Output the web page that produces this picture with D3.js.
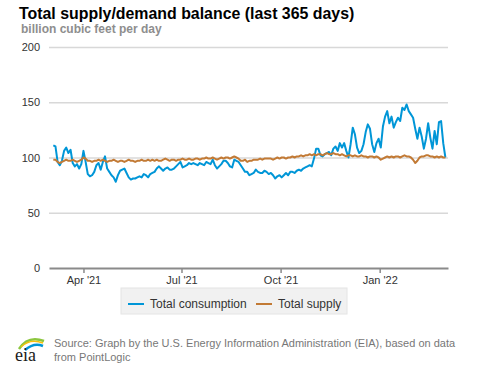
<!DOCTYPE html>
<html><head><meta charset="utf-8">
<script src="https://cdn.jsdelivr.net/npm/d3@7"></script>
<style>
body{margin:0;background:#fff;}
svg{display:block;font-family:"Liberation Sans",Arial,sans-serif;}
</style></head>
<body>
<svg id="chart" width="477" height="367"></svg>
<script>
const title = "Total supply/demand balance (last 365 days)";
const subtitle = "billion cubic feet per day";
const seriesNames = ["Total consumption", "Total supply"];
const startDate = "2021-03-04";
const stepDays = 2;
const yTicks = [0, 50, 100, 150, 200];
const xTickDates = ["2021-04-01", "2021-07-01", "2021-10-01", "2022-01-01"];
const xTickLabels = ["Apr '21", "Jul '21", "Oct '21", "Jan '22"];
const consumption = [
111,110,96,93,97,106,109,104,107,95,
92,94,90,94,106,96,85,83,84,87,
93,95,89,96,101,90,87,84,82,78,
84,88,89,90,86,82,80,81,81,82,
83,82,85,84,82,85,86,
87,90,92,90,
88,90,91,89,89,90,92,94,96,91,
92,93,95,94,95,94,93,95,94,93,
96,95,94,98,93,90,92,94,97,97,
95,92,91,98,97,96,93,90,87,87,
84,85,
86,89,87,86,86,88,87,85,86,
84,81,83,84,82,84,86,84,87,87,
86,88,89,88,90,91,92,93,92,99,
108,108,102,101,103,104,105,102,108,110,106,
113,109,113,106,100,112,
127,121,109,104,
106,112,123,130,126,112,105,113,117,109,
128,137,142,131,137,127,132,136,133,145,
143,148,142,139,136,126,117,127,119,108,
117,131,118,108,124,112,132,133,113,100
];
const supply = [
98,98,96,95,96,97,98,97,97,98,
97,96,97,98,100,99,97,97,96,97,
97,98,97,98,97,96,97,97,98,97,
96,97,97,96,97,98,97,97,96,97,
97,98,97,97,98,97,98,97,98,97,
97,98,99,98,97,98,98,97,98,98,
99,98,98,99,98,98,99,99,98,99,
99,100,99,99,100,99,98,99,100,99,
100,100,99,100,101,100,99,97,97,98,
96,97,97,98,98,98,99,98,99,99,
99,99,98,99,100,99,100,100,99,100,
100,101,100,101,101,102,101,102,102,103,
102,103,102,103,103,102,103,104,103,103,
104,103,103,102,103,102,101,102,102,101,
102,101,101,102,101,101,100,101,101,100,
101,100,98,99,100,101,100,101,100,101,
101,100,101,102,101,101,100,98,95,97,
100,101,101,102,102,101,101,100,101,100,
101,100,100
];
const colors = ["#0096d7", "#c27a35"];

const parse = d3.timeParse("%Y-%m-%d");
const t0 = parse(startDate);
const dateAt = i => d3.timeDay.offset(t0, i * stepDays);

const svg = d3.select("#chart");
const pLeft = 49, pRight = 448, pTop = 47, pBottom = 268;

const x = d3.scaleTime()
  .domain([new Date(2021, 1, 28, 0), new Date(2022, 2, 5, 10)])
  .range([pLeft, pRight]);
const y = d3.scaleLinear().domain([0, 200]).range([pBottom, pTop]);

// title
svg.append("text").attr("x", 19).attr("y", 19)
  .attr("font-size", 15.9).attr("font-weight", "bold").attr("fill", "#000")
  .text(title);
svg.append("text").attr("x", 21).attr("y", 33)
  .attr("font-size", 12).attr("font-weight", "bold").attr("fill", "#8e8e8e")
  .text(subtitle);

// y grid + labels
const yAxis = d3.axisLeft(y).tickValues(yTicks).tickSize(-(pRight - pLeft)).tickPadding(9);
const gy = svg.append("g").attr("transform", `translate(${pLeft},0)`).call(yAxis);
gy.select(".domain").remove();
gy.selectAll(".tick line").attr("stroke", "#d8d8d8").attr("stroke-width", 1.5)
  .attr("stroke-opacity", d => d === 0 ? 0 : 1);
gy.selectAll(".tick text").attr("font-size", 11).attr("fill", "#333")
  .attr("font-family", "'Liberation Sans',Arial,sans-serif");

// x axis
const xAxis = d3.axisBottom(x).tickValues(xTickDates.map(parse))
  .tickFormat((d, i) => xTickLabels[i]).tickSize(5).tickSizeOuter(0).tickPadding(3);
const gx = svg.append("g").attr("transform", `translate(0,${pBottom})`).call(xAxis);
gx.select(".domain").attr("stroke", "#8a8a8a").attr("stroke-width", 2);
gx.selectAll(".tick line").attr("stroke", "#8a8a8a").attr("stroke-width", 1.5);
gx.selectAll(".tick text").attr("font-size", 11).attr("fill", "#333")
  .attr("font-family", "'Liberation Sans',Arial,sans-serif");

// lines
const line = d3.line().x((d, i) => x(dateAt(i))).y(d => y(d));
[consumption, supply].forEach((s, k) => {
  svg.append("path").datum(s).attr("d", line).attr("fill", "none")
    .attr("stroke", colors[k]).attr("stroke-width", 2).attr("stroke-linejoin", "round");
});

// legend
const lg = svg.append("g");
lg.append("rect").attr("x", 121).attr("y", 288).attr("width", 226).attr("height", 26)
  .attr("fill", "#f1f1f1").attr("stroke", "#e4e4e4");
const lx = [128, 256];
seriesNames.forEach((n, k) => {
  lg.append("line").attr("x1", lx[k]).attr("x2", lx[k] + 16).attr("y1", 304).attr("y2", 304)
    .attr("stroke", colors[k]).attr("stroke-width", 2);
  lg.append("text").attr("x", lx[k] + 22).attr("y", 308).attr("font-size", 12)
    .attr("fill", "#333").text(n);
});

// source
const src = svg.append("g");
src.append("text").attr("x", 54).attr("y", 347).attr("font-size", 11).attr("fill", "#777")
  .text("Source: Graph by the U.S. Energy Information Administration (EIA), based on data");
src.append("text").attr("x", 54).attr("y", 360.5).attr("font-size", 11).attr("fill", "#777")
  .text("from PointLogic");

// eia logo
const logo = svg.append("g");
logo.append("path").attr("d", "M19,349 Q28,335 44,341").attr("fill", "none")
  .attr("stroke", "#8cc63f").attr("stroke-width", 2.5);
logo.append("path").attr("d", "M21,347 Q30,338 43,343").attr("fill", "none")
  .attr("stroke", "#f4c20d").attr("stroke-width", 1.5);
logo.append("path").attr("d", "M25,350 Q34,342 43,346").attr("fill", "none")
  .attr("stroke", "#0096d7").attr("stroke-width", 2.5);
logo.append("text").attr("x", 15).attr("y", 361).attr("font-size", 18)
  .attr("font-family", "'Liberation Serif','DejaVu Serif',serif").attr("fill", "#1a1a1a")
  .text("eia");
</script>
</body></html>
